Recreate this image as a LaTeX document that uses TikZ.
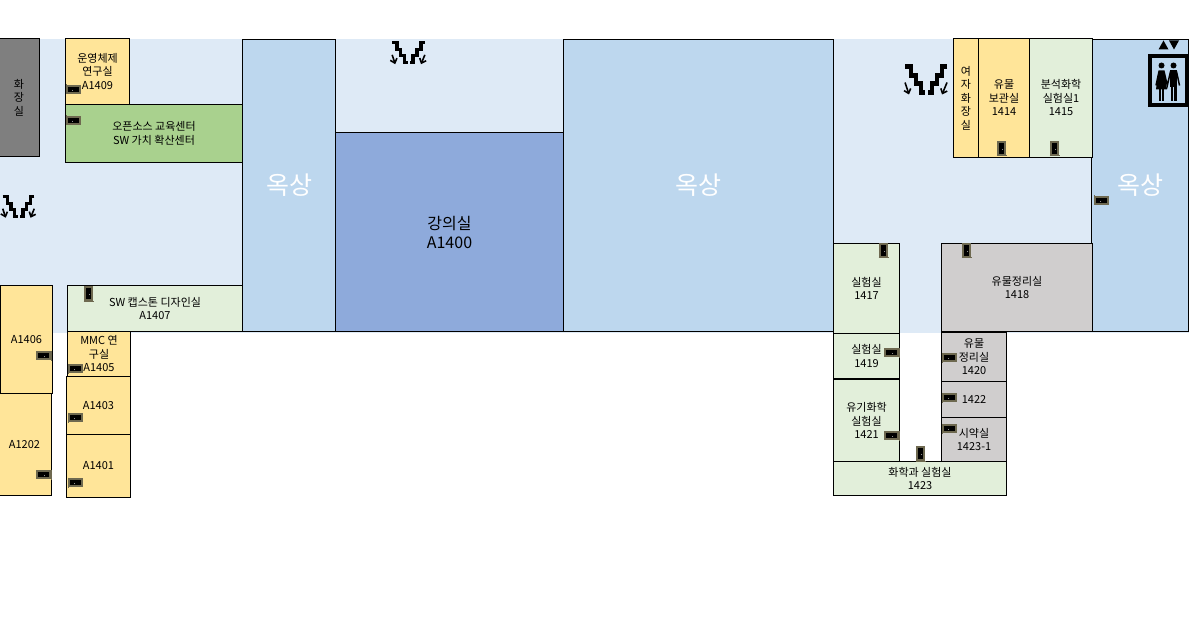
\documentclass[tikz,border=0pt]{standalone}
\usepackage{fontspec}
\usepackage{xcolor}
\usetikzlibrary{
arrows.meta
}
\setmainfont{Noto Sans CJK KR}
\definecolor{hall}{HTML}{DEEAF6}
\definecolor{roof}{HTML}{BDD7EE}
\definecolor{lecture}{HTML}{8EAADB}
\definecolor{office}{HTML}{FFE599}
\definecolor{lab}{HTML}{E2EFDA}
\definecolor{center}{HTML}{A9D18E}
\definecolor{store}{HTML}{D0CECE}
\definecolor{toilet}{HTML}{7F7F7F}
\definecolor{doorframe}{HTML}{6E6950}
\tikzset{
room/.style={draw=black, line width=1pt, anchor=north west, inner sep=0pt, outer sep=0pt, align=center, font=\fontsize{11}{13.5}\selectfont},
roofarea/.style={room, fill=roof, text=white, font=\fontsize{25}{28}\selectfont},
doorh/.pic={
\draw[draw=doorframe, fill=black, line width=1.3pt] (-6.5,-3.5) rectangle (6.5,3.5);
\draw[doorframe, line width=1pt] (-7.5,-5) -- (-7.5,5);
\fill[white!70!black] (-1,1) circle (.5);
},
stairs/.pic={
\draw[miter limit=10] (-21,-13) -- (-15,-13) -- (-15,-4) -- (-10,-4) -- (-10,4) -- (-5,4) -- (-5,13) -- (-1,13);
\draw[miter limit=10] (21,-13) -- (16,-13) -- (16,-4) -- (11,-4) -- (11,4) -- (6,4) -- (6,13) -- (2,13);
\draw[-{Straight Barb[length=4pt,width=7pt]}, line width=1.6pt] (-21,3) -- (-17,15);
\draw[-{Straight Barb[length=4pt,width=7pt]}, line width=1.6pt] (21,3) -- (16,15);
}
}

\begin{document}
\begin{tikzpicture}[x=1pt, y=-1pt]

\useasboundingbox (-.5,-.5) rectangle (1192.5,619.5);
\fill[hall] (0,39) rectangle (1188,332);

% roof and lecture hall
\node[roofarea, minimum width=93pt, minimum height=292pt] (roofa) at (242,39) {옥상};
\node[room, fill=lecture, minimum width=228pt, minimum height=199pt, font=\fontsize{16}{19}\selectfont] (a1400) at (335,132) {강의실\\A1400};
\node[roofarea, minimum width=270pt, minimum height=292pt] (roofb) at (563,39) {옥상};
\node[roofarea, minimum width=97pt, minimum height=292pt] (roofc) at (1091,39) {옥상};

% left wing
\node[room, fill=toilet, minimum width=41pt, minimum height=118pt] (wc) at (-2,38) {화\\장\\실};
\node[room, fill=office, minimum width=64pt, minimum height=66pt] (a1409) at (65,38) {운영체제\\연구실\\A1409};
\node[room, fill=center, minimum width=177pt, minimum height=58pt] (oss) at (65,104) {오픈소스 교육센터\\SW 가치 확산센터};
\node[room, fill=office, minimum width=52pt, minimum height=108pt] (a1406) at (0,285) {A1406};
\node[room, fill=office, minimum width=54pt, minimum height=102pt] (a1202) at (-3,393) {A1202};
\node[room, fill=lab, minimum width=175pt, minimum height=46pt] (a1407) at (67,285) {SW 캡스톤 디자인실\\A1407};
\node[room, fill=office, minimum width=63pt, minimum height=45pt] (a1405) at (67,331) {MMC 연\\구실\\A1405};
\node[room, fill=office, minimum width=64pt, minimum height=58pt] (a1403) at (66,376) {\raisebox{-4pt}{A1403}};
\node[room, fill=office, minimum width=64pt, minimum height=63pt] (a1401) at (66,434) {A1401};

% right wing
\node[room, fill=office, minimum width=25pt, minimum height=119pt] (wcw) at (953,38) {여\\자\\화\\장\\실};
\node[room, fill=office, minimum width=51pt, minimum height=119pt] (r1414) at (978,38) {유물\\보관실\\1414};
\node[room, fill=lab, minimum width=63pt, minimum height=119pt] (r1415) at (1029,38) {분석화학\\실험실1\\1415};
\node[room, fill=lab, minimum width=66pt, minimum height=90pt] (r1417) at (833,243) {실험실\\1417};
\node[room, fill=store, minimum width=151pt, minimum height=88pt] (r1418) at (941,243) {유물정리실\\1418};
\node[room, fill=lab, minimum width=66pt, minimum height=45pt] (r1419) at (833,333) {실험실\\1419};
\node[room, fill=lab, minimum width=66pt, minimum height=82pt] (r1421) at (833,379) {유기화학\\실험실\\1421};
\node[room, fill=store, minimum width=65pt, minimum height=49pt] (r1420) at (941,332) {유물\\정리실\\1420};
\node[room, fill=store, minimum width=65pt, minimum height=36pt] (r1422) at (941,381) {1422};
\node[room, fill=store, minimum width=65pt, minimum height=44pt] (r14231) at (941,417) {시약실\\1423-1};
\node[room, fill=lab, minimum width=173pt, minimum height=34pt] (r1423) at (833,461) {화학과 실험실\\1423};

% doors
\pic at (73,89) {doorh};
\pic at (73,120) {doorh};
\pic[xscale=-1] at (43,355) {doorh};
\pic[xscale=-1] at (43,474) {doorh};
\pic at (75,368) {doorh};
\pic at (75,417) {doorh};
\pic at (75,482) {doorh};
\pic at (1101,200) {doorh};
\pic[xscale=-1] at (891,352) {doorh};
\pic[xscale=-1] at (891,435) {doorh};
\pic at (949,357) {doorh};
\pic at (949,397) {doorh};
\pic at (949,428) {doorh};
\pic[rotate=90] at (88,293) {doorh};
\pic[rotate=90] at (1001,148) {doorh};
\pic[rotate=90] at (1054,148) {doorh};
\pic[rotate=90] at (883,250) {doorh};
\pic[rotate=90] at (966,250) {doorh};
\pic[rotate=90] at (920,453) {doorh};

% stairs
\pic[line width=4.5pt] at (925.5,79) {stairs};
\pic[scale=.78, line width=3.5pt] at (408,52) {stairs};
\pic[scale=.75, line width=3.4pt] at (18,206) {stairs};

% elevator
\draw[line width=4pt, fill=roof] (1149,56) rectangle (1186,105);
\fill (1158,49) -- (1168,49) -- (1163,40) -- cycle;
\fill (1168.5,40) -- (1178.5,40) -- (1173.5,49) -- cycle;
\fill (1161,65) circle (3);
\fill (1173,65) circle (3);
\fill (1158,70) -- (1164,70) -- (1166.5,89) -- (1155.5,89) -- cycle;
\fill (1158.7,89) rectangle (1160.3,101);
\fill (1161.7,89) rectangle (1163.3,101);
\fill (1169.5,70) rectangle (1176.5,87);
\fill (1170,87) rectangle (1172.5,101);
\fill (1173.5,87) rectangle (1176,101);
\draw[line width=1.5pt] (1158.5,71) -- (1155.5,85);
\draw[line width=1.5pt] (1163.5,71) -- (1166.8,85) -- (1170,71);
\draw[line width=1.5pt] (1176,71) -- (1179,85);

\end{tikzpicture}
\end{document}
